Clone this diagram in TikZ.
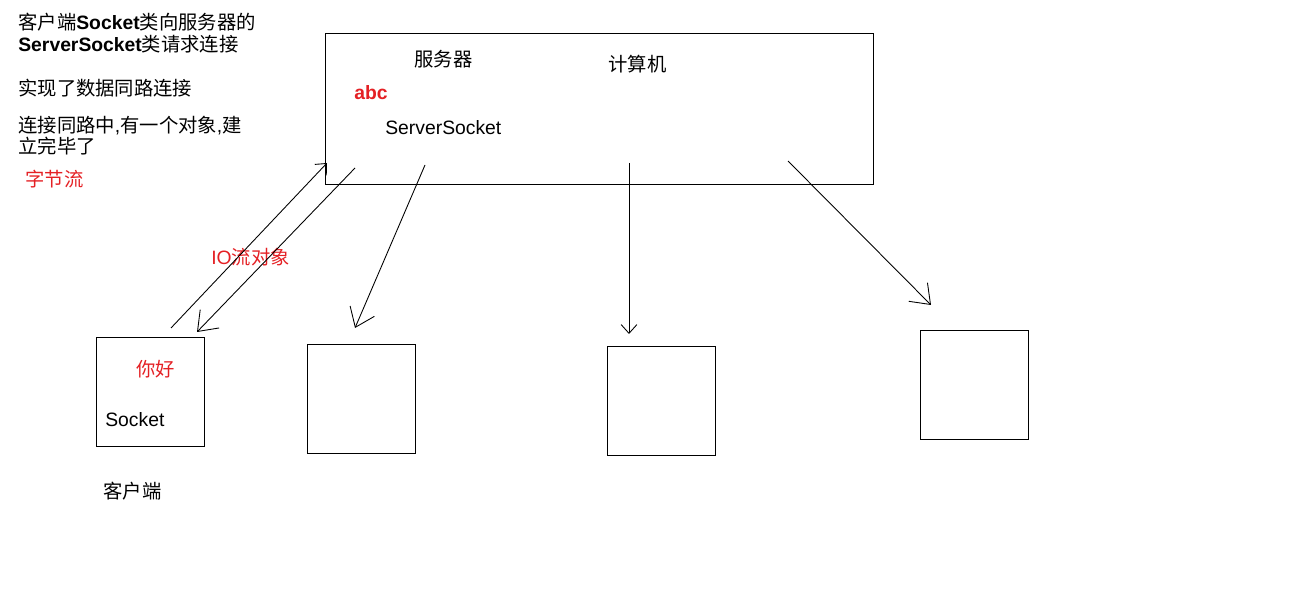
\documentclass[tikz,border=0pt]{standalone}
\usepackage{fontspec}
\setmainfont{Liberation Sans}
\newfontfamily\cjk{Noto Sans CJK SC}
\usetikzlibrary{positioning, arrows.meta}
\definecolor{notered}{RGB}{228,32,36}
\newcommand{\zh}[1]{{\cjk #1}}

\begin{document}
\begin{tikzpicture}[x=0.02cm, y=-0.02cm,
	txt/.style={anchor=west, inner sep=0pt, align=left, font=\fontsize{11}{12.5}\selectfont},
	redtxt/.style={txt, text=notered},
	box/.style={draw, line width=0.6pt, anchor=north west, inner sep=0pt, minimum width=2.16cm, minimum height=2.18cm},
	link/.style={line width=0.5pt, -{Straight Barb[length=5pt, width=9pt]}},
	biglink/.style={line width=0.5pt, -{Straight Barb[length=10pt, width=15pt]}},
	]
	\useasboundingbox (0,0) rectangle (1290,597);

	% boxes
	\node[box, minimum width=10.96cm, minimum height=3.02cm] (Server) at (325,33) {};
	\node[box] (Client) at (96,337) {};
	\node[box] (BoxB) at (307,344) {};
	\node[box] (BoxC) at (607,346) {};
	\node[box] (BoxD) at (920,330) {};

	% notes on the left
	\node[txt] (Note1) at (18,33) {\zh{客户端}\textbf{Socket}\zh{类向服务器的}\\\textbf{ServerSocket}\zh{类请求连接}};
	\node[txt] (Note2) at (18,88) {\zh{实现了数据同路连接}};
	\node[txt, font=\fontsize{11}{11.8}\selectfont] (Note3) at (18,135.5) {\zh{连接同路中}{,}\zh{有一个对象}{,}\zh{建}\\\zh{立完毕了}};
	\node[redtxt] (Bytes) at (25,179) {\zh{字节流}};

	% labels in the server box
	\node[txt] (ServerLbl) at (414,59) {\zh{服务器}};
	\node[txt] (Computer) at (608,64) {\zh{计算机}};
	\node[redtxt, font=\fontsize{11}{12.5}\selectfont\bfseries] (Abc) at (354,93) {abc};
	\node[txt] (SrvSock) at (385,128) {ServerSocket};

	% labels at the client
	\node[redtxt] (IOStream) at (211,257) {IO\zh{流对象}};
	\node[redtxt] (Hello) at (136,369) {\zh{你好}};
	\node[txt] (CliSock) at (105,420) {Socket};
	\node[txt] (ClientLbl) at (103,491) {\zh{客户端}};

	% connectors
	\coordinate (a1) at (171,328);
	\coordinate (a2) at (327,163);
	\coordinate (b1) at (355,168);
	\coordinate (b2) at (197,332);
	\coordinate (c1) at (425,165);
	\coordinate (c2) at (355,328);
	\coordinate (d1) at (629,163);
	\coordinate (d2) at (629,334);
	\coordinate (e1) at (788,161);
	\coordinate (e2) at (931,305);

	\draw[link] (a1) -- (a2);
	\draw[biglink] (b1) -- (b2);
	\draw[biglink] (c1) -- (c2);
	\draw[link] (d1) -- (d2);
	\draw[biglink] (e1) -- (e2);
\end{tikzpicture}
\end{document}
